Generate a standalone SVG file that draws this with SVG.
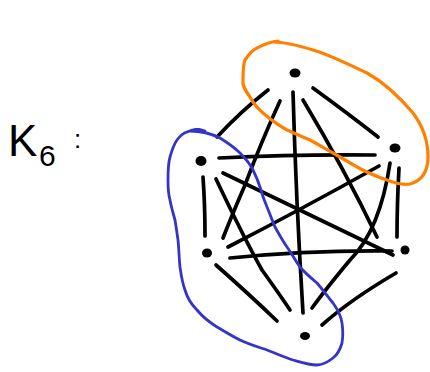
<svg xmlns="http://www.w3.org/2000/svg" width="430" height="372" viewBox="0 0 430 372">
  <style>
    .edge { fill: none; stroke: #000; stroke-width: 3.7; stroke-linecap: round; stroke-linejoin: round; }
    .vertex { fill: #000; }
    .orange { fill: none; stroke: #ff8000; stroke-width: 3.2; stroke-linecap: round; stroke-linejoin: round; }
    .blue { fill: none; stroke: #3434c8; stroke-width: 2.8; stroke-linecap: round; stroke-linejoin: round; }
    .label { font-family: "Liberation Sans", Arial, sans-serif; fill: #000; }
  </style>

  <!-- title: K6 -->
  <g id="title">
    <text class="label" x="8" y="156" font-size="44">K</text>
    <text class="label" x="39" y="166" font-size="30">6</text>
    <text class="label" x="74" y="148" font-size="26">:</text>
  </g>

  <!-- the fifteen edges of the complete graph -->
  <g id="edges">
    <path class="edge" d="M268,90 Q240,112 217,137"/>
    <path class="edge" d="M280,101 Q262,140 245,185 Q232,215 223,238"/>
    <path class="edge" d="M293,92 Q296,200 303,313"/>
    <path class="edge" d="M303,100 Q345,170 377,237"/>
    <path class="edge" d="M313,88 Q350,115 378,137"/>
    <path class="edge" d="M219,158 Q300,154 375,155"/>
    <path class="edge" d="M379,166 Q300,210 228,247"/>
    <path class="edge" d="M390,163 Q380,230 350,260 Q325,290 312,308"/>
    <path class="edge" d="M399,168 Q397,205 397,237"/>
    <path class="edge" d="M223,173 Q310,215 393,255"/>
    <path class="edge" d="M203,177 Q205,205 205,236"/>
    <path class="edge" d="M216,179 Q245,240 262,270 Q280,295 290,310"/>
    <path class="edge" d="M230,258 Q310,250 392,251"/>
    <path class="edge" d="M216,265 Q250,295 277,321"/>
    <path class="edge" d="M396,273 Q350,300 322,325"/>
  </g>

  <!-- vertices -->
  <g id="v1"><ellipse class="vertex" cx="295" cy="73" rx="5.5" ry="4.5"/></g>
  <g id="v2"><ellipse class="vertex" cx="395" cy="148" rx="5.5" ry="4.5"/></g>
  <g id="v3"><ellipse class="vertex" cx="201" cy="161" rx="5.5" ry="5"/></g>
  <g id="v4"><ellipse class="vertex" cx="207" cy="253" rx="5" ry="4.5"/></g>
  <g id="v5"><ellipse class="vertex" cx="405" cy="250" rx="4.5" ry="4.5"/></g>
  <g id="v6"><ellipse class="vertex" cx="305" cy="336" rx="5" ry="4"/></g>

  <!-- orange loop around the top pair -->
  <g id="orange-group">
    <path class="orange" d="M273,42 C285,42 300,46 313,50 C330,55 350,65 367,73 C385,83 402,100 413,113 C422,125 428,140 428,157 C428,168 424,180 410,184 C400,186 394,182 387,180 C375,176 366,172 357,167 C347,161 340,157 333,153 C322,147 316,143 310,140 C300,136 294,133 287,130 C278,125 270,119 263,113 C256,107 252,101 250,97 C245,90 242,85 243,80 C243,72 243,65 245,60 C249,54 252,50 257,48 C263,45 268,42 278,41"/>
  </g>

  <!-- blue loop down the left side -->
  <g id="blue-group">
    <path class="blue" d="M187,132 C193,129 200,129 205,131 C200,129 194,129 190,131 C200,131 212,134 220,138 C228,143 235,148 240,153 C246,159 250,164 253,170 C256,176 258,181 260,187 C262,194 264,200 267,207 C270,214 272,220 275,227 C279,234 282,240 287,247 C292,254 295,260 300,267 C305,273 311,278 317,283 C323,290 328,297 333,303 C338,310 341,316 342,323 C343,330 343,337 342,343 C340,350 337,355 333,358 C328,362 322,365 317,365 C309,365 300,362 293,360 C284,357 275,353 267,350 C258,347 248,344 240,340 C232,336 224,331 217,327 C209,322 202,316 197,310 C191,304 187,297 185,290 C182,282 181,274 180,267 C179,258 179,249 178,240 C177,233 176,226 175,220 C173,213 171,206 170,200 C168,193 168,187 168,180 C168,172 168,164 170,157 C172,150 174,144 177,140 C180,136 183,133 187,132"/>
  </g>
</svg>
